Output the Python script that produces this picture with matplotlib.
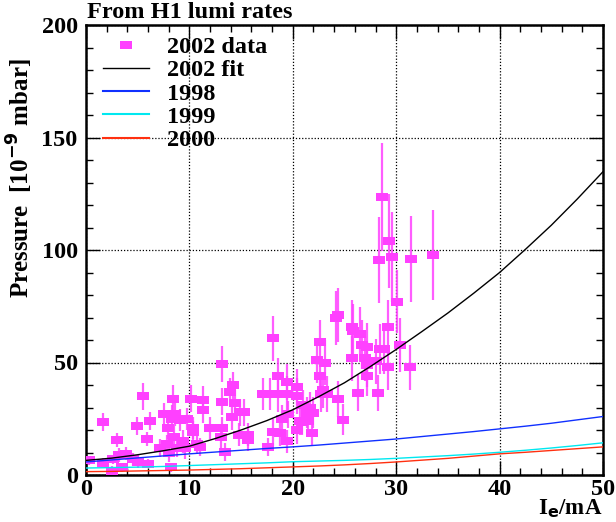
import matplotlib
matplotlib.use("Agg")
import matplotlib.pyplot as plt
from matplotlib.lines import Line2D

# --- data ---
# 2002 data points: current I_e [mA], pressure [1e-9 mbar], error
data_x = [0.3, 1.6, 1.6, 2.5, 2.6, 3.0, 3.2, 3.5, 3.9, 4.5, 4.9, 5.5, 5.9, 5.0, 6.2, 6.0,
          7.2, 7.5, 7.8, 7.9, 8.0, 8.2, 8.4, 8.3, 8.5, 8.6, 8.8, 9.1, 9.4, 9.6, 10.2, 10.3,
          10.3, 10.7, 9.8,
          11.0, 11.3, 11.3, 12.0, 13.2, 13.2, 13.2, 13.1, 13.4, 13.9, 14.2, 14.4, 14.1,
          14.9, 15.3, 14.8, 15.7, 15.7, 17.1, 17.8, 17.6, 18.1, 18.1, 18.6, 18.6, 18.8,
          19.4, 19.4, 19.4, 19.5, 19.0, 20.4, 20.4, 20.7, 20.4, 21.0, 21.4, 21.7, 22.0,
          21.9, 20.9, 21.5,
          22.6, 22.3, 23.1, 22.6, 22.9, 22.7, 23.3, 24.4, 24.9, 24.4, 24.2, 25.7, 25.8,
          26.5, 26.7, 27.2, 25.7, 27.0, 27.2, 27.2, 26.3, 28.0, 28.4, 28.8, 28.2, 29.2,
          29.2, 30.4, 31.3, 30.1, 28.6, 29.3, 29.6, 28.3, 31.4, 33.6]
data_y = [6.5, 23.7, 5.5, 2.0, 7.0, 15.5, 9.0, 3.5, 9.5, 7.0, 22.0, 35.0, 16.0, 6.0, 24.0, 5.0,
          12.0, 27.0, 14.0, 21.0, 10.0, 3.5, 34.0, 25.0, 17.0, 27.0, 12.0, 24.5, 15.0, 12.0,
          34.0, 21.0, 19.0, 14.0, 25.0,
          12.5, 33.5, 29.0, 21.0, 49.5, 32.6, 21.0, 17.0, 10.3, 37.0, 40.0, 32.0, 26.0,
          28.0, 28.0, 18.0, 18.0, 15.6, 36.0, 36.0, 12.5, 60.7, 19.0, 44.0, 36.0, 18.7,
          41.5, 36.0, 15.0, 27.0, 25.0, 39.0, 35.0, 24.0, 20.0, 31.0, 27.7, 30.0, 27.7,
          18.8, 23.7, 24.0,
          59.0, 51.0, 50.0, 44.0, 38.0, 36.0, 36.0, 34.0, 24.6, 71.0, 70.0, 66.0, 64.0,
          62.5, 58.0, 56.7, 52.0, 52.0, 49.0, 44.0, 36.6, 50.5, 56.0, 56.0, 36.6, 66.0,
          48.0, 58.0, 48.0, 77.0, 123.7, 104.0, 97.0, 95.5, 96.0, 98.0]
data_err = [2, 4, 2, 2, 2, 3, 3, 2, 3, 3, 4, 6, 3, 3, 4, 2,
            4, 5, 4, 5, 4, 2, 6, 6, 5, 5, 4, 5, 5, 5, 6, 5,
            5, 4, 5,
            4, 6, 6, 5, 8, 6, 5, 5, 4, 6, 6, 6, 6,
            6, 6, 5, 5, 5, 7, 7, 4, 10, 6, 8, 8, 6,
            8, 8, 5, 6, 6, 8, 8, 6, 6, 7, 7, 7, 7,
            6, 6, 6,
            10, 10, 10, 9, 8, 8, 8, 8, 7, 12, 12, 12, 12,
            12, 11, 11, 10, 10, 10, 9, 8, 10, 11, 11, 8, 12,
            10, 12, 10, 14, 24, 21, 20, 19, 19, 20]

curve_x = [0, 2.5, 5, 7.5, 10, 12.5, 15, 17.5, 20, 22.5, 25, 27.5, 30, 32.5, 35,
           37.5, 40, 42.5, 45, 47.5, 50]
fit_2002 = [6.5, 7.5, 9.0, 10.8, 12.8, 16.2, 20.0, 24.2, 29.0, 34.8, 41.0, 48.2, 55.8,
            63.8, 72.0, 80.8, 90.0, 100.3, 111.0, 122.6, 134.8]
fit_1998 = [5.8, 6.7, 7.6, 8.5, 9.4, 10.2, 11.0, 11.8, 12.5, 13.3, 14.2, 15.1, 16.0,
            17.1, 18.2, 19.3, 20.5, 21.7, 23.0, 24.5, 26.0]
fit_1999 = [3.1, 3.3, 3.5, 3.8, 4.2, 4.6, 5.0, 5.4, 5.9, 6.2, 6.5, 6.9, 7.4, 8.0, 8.6,
            9.3, 10.1, 11.0, 12.0, 13.1, 14.3]
fit_2000 = [1.5, 1.6, 1.8, 2.0, 2.2, 2.5, 2.8, 3.2, 3.6, 4.0, 4.5, 5.1, 5.8, 6.6, 7.4,
            8.4, 9.4, 10.1, 10.9, 11.7, 12.5]

MAGENTA = '#ff40ff'
FONT = 'Liberation Serif'

plt.rcParams['font.family'] = FONT
plt.rcParams['font.weight'] = 'bold'

fig = plt.figure(figsize=(6.16, 5.22), dpi=100)
ax = fig.add_axes([86 / 616, 1 - 475 / 522, 517 / 616, 450 / 522])

# rectangular marker (wider than tall, like ROOT's full square here)
rect = [(-1, -0.7), (1, -0.7), (1, 0.7), (-1, 0.7), (-1, -0.7)]

ax.errorbar(data_x, data_y, yerr=data_err, fmt='none', ecolor=MAGENTA,
            elinewidth=1.6, alpha=0.85, zorder=3)
ax.plot(data_x, data_y, linestyle='none', marker=rect, markersize=8.5,
        color=MAGENTA, markeredgewidth=0, zorder=4)

ax.plot(curve_x, fit_2002, color='black', lw=1.0, zorder=5)
ax.plot(curve_x, fit_1998, color='#1030ff', lw=1.0, zorder=5)
ax.plot(curve_x, fit_1999, color='#00e8f0', lw=1.0, zorder=5)
ax.plot(curve_x, fit_2000, color='#ff3010', lw=1.0, zorder=5)

ax.set_xlim(0, 50)
ax.set_ylim(0, 200)
ax.set_xticks([0, 10, 20, 30, 40, 50])
ax.set_yticks([0, 50, 100, 150, 200])
ax.set_xticks(range(0, 51, 2), minor=True)
ax.set_yticks(range(0, 201, 10), minor=True)
ax.grid(True, which='major', color='black', linestyle=(0, (1, 1.5)), lw=0.9)
ax.tick_params(which='both', direction='in', top=True, right=True, width=1.0)
ax.tick_params(which='major', length=10, labelsize=17.5, pad=6)
ax.tick_params(axis='x', which='major', pad=3)
ax.tick_params(which='minor', length=5)
for lab in ax.get_xticklabels() + ax.get_yticklabels():
    lab.set_fontweight('bold')
for sp in ax.spines.values():
    sp.set_linewidth(1.8)

# legend
handles = [
    Line2D([], [], linestyle='none', marker=rect, markersize=8.5, color=MAGENTA,
           markeredgewidth=0),
    Line2D([], [], color='black', lw=1.0),
    Line2D([], [], color='#1030ff', lw=1.5),
    Line2D([], [], color='#00e8f0', lw=1.5),
    Line2D([], [], color='#ff3010', lw=1.5),
]
labels = ['2002 data', '2002 fit', '1998', '1999', '2000']
ax.legend(handles, labels, loc='upper left', bbox_to_anchor=(0.033, 0.975),
          frameon=False, borderpad=0, borderaxespad=0, handlelength=1.9,
          handletextpad=0.75, labelspacing=0.05,
          prop={'family': FONT, 'weight': 'bold', 'size': 17.5})

fig.text(87 / 616, 1 - 12 / 522, 'From H1 lumi rates', fontsize=17.5, fontweight='bold',
         ha='left', va='center')
fig.text(20 / 616, 1 - 178 / 522, 'Pressure  [10$^{\\mathbf{-9}}$ mbar]', fontsize=18,
         fontweight='bold', rotation=90, ha='center', va='center')
fig.text(602 / 616, 1 - 514 / 522, 'I$_{\\mathbf{e}}$/mA', fontsize=16.5, fontweight='bold',
         ha='right', va='baseline')

fig.savefig('out.png', dpi=100)
